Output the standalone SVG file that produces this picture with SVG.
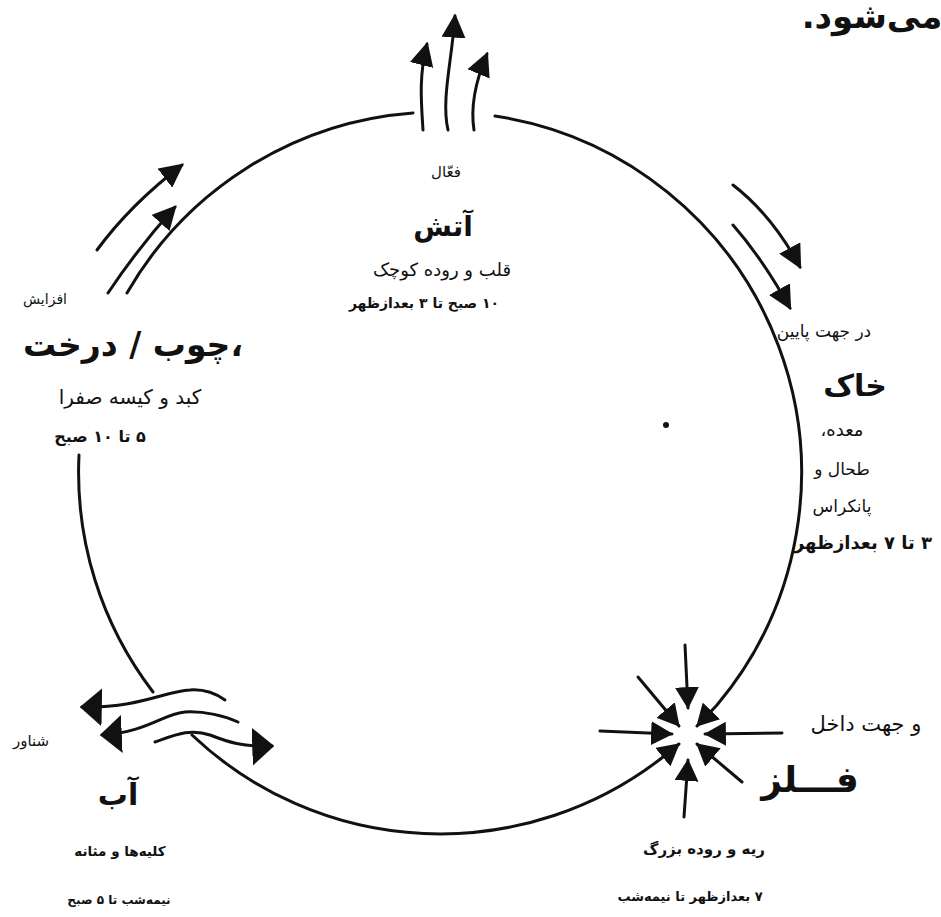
<svg xmlns="http://www.w3.org/2000/svg" width="941" height="917" viewBox="0 0 941 917">
<style>
text{font-family:"DejaVu Sans","Noto Sans",sans-serif;fill:#111;direction:rtl;text-anchor:middle}
.t{font-size:30px;font-weight:bold}
.ln{fill:none;stroke:#111;stroke-width:3;stroke-linecap:round}
</style>
<defs>
<marker id="ah" viewBox="0 0 10 10" refX="9" refY="5" markerWidth="24" markerHeight="24" markerUnits="userSpaceOnUse" orient="auto"><path d="M0,0 L10,5 L0,10 z" fill="#111"/></marker>
<marker id="am" viewBox="0 0 10 10" refX="9.5" refY="5" markerWidth="22" markerHeight="24" markerUnits="userSpaceOnUse" orient="auto" preserveAspectRatio="none"><path d="M0,0 L10,5 L0,10 z" fill="#111"/></marker>
<marker id="aw" viewBox="0 0 10 10" refX="9" refY="5" markerWidth="22" markerHeight="38" markerUnits="userSpaceOnUse" orient="auto" preserveAspectRatio="none"><path d="M0,0 L10,5 L0,10 z" fill="#111"/></marker>
</defs>
<rect width="941" height="917" fill="#fff"/>
<text x="872" y="28" style="font-size:34px;font-weight:bold">می‌شود.</text>
<g id="connectors">
<path class="ln" d="M413,113 A361,361 0 0 0 127,293"/>
<path class="ln" d="M79,455 A361,361 0 0 0 153,692"/>
<path class="ln" d="M192,735 A361,361 0 0 0 663,757 L679,744" marker-end="url(#am)"/>
<path class="ln" d="M495,116 A361,361 0 0 1 717,705 L697,726" marker-end="url(#am)"/>
<path class="ln" d="M423,130 C421,100 419,75 427,44" marker-end="url(#ah)"/>
<path class="ln" d="M448,130 C441,100 452,60 455,16" marker-end="url(#ah)"/>
<path class="ln" d="M474,130 C470,105 476,80 487,54" marker-end="url(#ah)"/>
<path class="ln" d="M97,250 Q130,205 182,165" marker-end="url(#ah)"/>
<path class="ln" d="M108,293 Q138,248 175,207" marker-end="url(#ah)"/>
<path class="ln" d="M733,185 Q772,215 800,267" marker-end="url(#ah)"/>
<path class="ln" d="M733,225 Q762,258 790,308" marker-end="url(#ah)"/>
<path class="ln" d="M685,645 L688,708" marker-end="url(#am)"/>
<path class="ln" d="M638,677 L679,726" marker-end="url(#am)"/>
<path class="ln" d="M600,731 L672,734" marker-end="url(#am)"/>
<path class="ln" d="M782,733 L705,734" marker-end="url(#am)"/>
<path class="ln" d="M742,782 L697,744" marker-end="url(#am)"/>
<path class="ln" d="M684,817 L688,760" marker-end="url(#am)"/>
<path class="ln" d="M225,700 C215,693 205,689 190,690 C165,691 140,708 82,707" marker-end="url(#aw)"/>
<path class="ln" d="M238,722 C225,716 205,711 185,712 C165,713 145,733 102,735" marker-end="url(#aw)"/>
<path class="ln" d="M155,742 C175,735 190,728 210,735 C228,742 242,747 272,746" marker-end="url(#aw)"/>
</g>
<g id="fire">
<text x="446" y="177" style="font-size:15px">فعّال</text>
<text x="443" y="236" style="font-size:28px;font-weight:bold">آتش</text>
<text x="442" y="276" style="font-size:18px">قلب و روده کوچک</text>
<text x="424" y="308" style="font-size:14px;font-weight:bold">۱۰ صبح تا ۳ بعدازظهر</text>
</g>
<g id="wood">
<text x="45" y="304" style="font-size:14px">افزایش</text>
<text x="133" y="356" style="font-size:33px;font-weight:bold">،چوب / درخت</text>
<text x="130" y="404" style="font-size:20px">کبد و کیسه صفرا</text>
<text x="100" y="442" style="font-size:16px;font-weight:bold">۵ تا ۱۰ صبح</text>
</g>
<g id="earth">
<text x="824" y="337" style="font-size:17px">در جهت پایین</text>
<text x="855" y="396" class="t">خاک</text>
<text x="842" y="436" style="font-size:18px">معده،</text>
<text x="842" y="475" style="font-size:17px">طحال و</text>
<text x="842" y="512" style="font-size:17px">پانکراس</text>
<text x="863" y="549" style="font-size:18px;font-weight:bold">۳ تا ۷ بعدازظهر</text>
<circle cx="666" cy="425" r="3" fill="#111"/>
</g>
<g id="metal">
<text x="866" y="731" style="font-size:21px">و جهت داخل</text>
<text x="810" y="792" style="font-size:36px;font-weight:bold">فـــلز</text>
<text x="704" y="854" style="font-size:15px;font-weight:bold">ریه و روده بزرگ</text>
<text x="690" y="901" style="font-size:13px;font-weight:bold">۷ بعدازظهر تا نیمه‌شب</text>
</g>
<g id="water">
<text x="31" y="746" style="font-size:15px">شناور</text>
<text x="118" y="805" class="t">آب</text>
<text x="120" y="856" style="font-size:13.5px;font-weight:bold">کلیه‌ها و مثانه</text>
<text x="119" y="904" style="font-size:12px;font-weight:bold">نیمه‌شب تا ۵ صبح</text>
</g>
</svg>
